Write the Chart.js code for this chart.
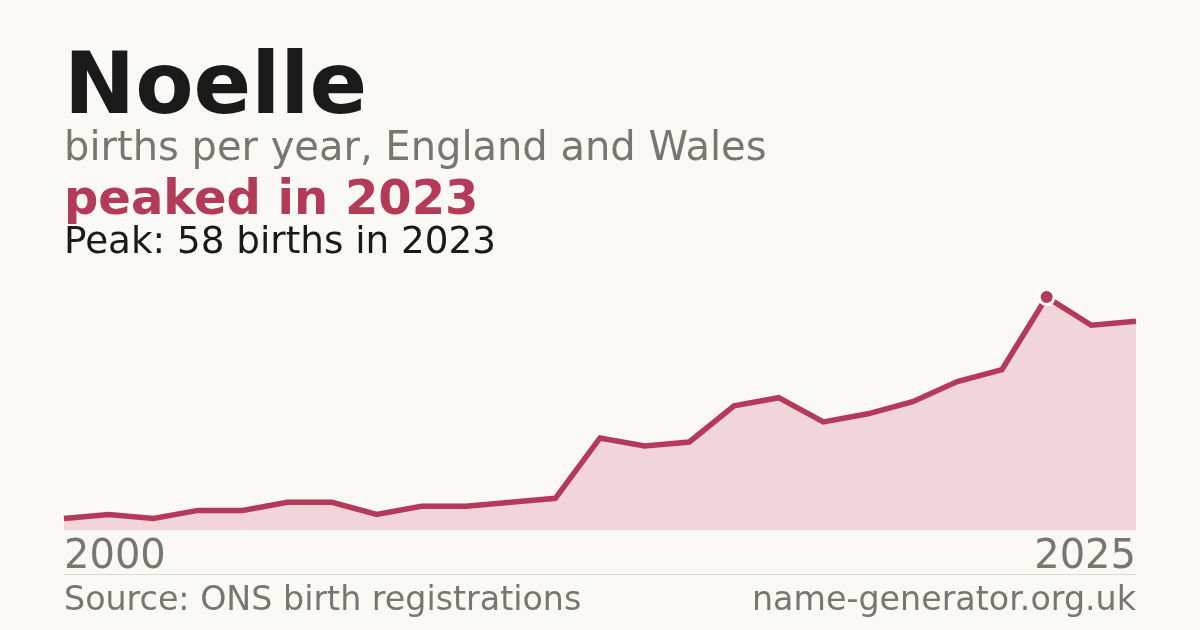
<!DOCTYPE html>
<html>
<head>
<meta charset="utf-8">
<script src="https://cdn.jsdelivr.net/npm/chart.js@4"></script>
<style>
  html, body { margin: 0; padding: 0; }
  body { width: 1200px; height: 630px; background: #faf9f5; position: relative; overflow: hidden; font-family: "DejaVu Sans", sans-serif; }
  #chart { position: absolute; left: 0; top: 0; }
  .txt { position: absolute; left: 64px; line-height: 1; white-space: nowrap; }
  #title { top: 41px; font-size: 85px; font-weight: bold; color: #1a1a1a; }
  #sub { top: 126px; font-size: 40px; color: #7a756e; }
  #peaked { top: 173px; font-size: 48px; font-weight: bold; color: #b33a58; }
  #peak { top: 222px; font-size: 37.3px; color: #1a1a1a; }
  #rule { position: absolute; left: 64px; width: 1072px; top: 574px; height: 1px; background: #dedad3; }
  .foot { position: absolute; top: 582px; font-size: 33.3px; line-height: 1; color: #7a756e; white-space: nowrap; }
  #src { left: 64px; }
  #site { right: 64px; }
</style>
</head>
<body>
<canvas id="chart" width="1200" height="630"></canvas>
<div class="txt" id="title">Noelle</div>
<div class="txt" id="sub">births per year, England and Wales</div>
<div class="txt" id="peaked">peaked in 2023</div>
<div class="txt" id="peak">Peak: 58 births in 2023</div>
<div id="rule"></div>
<div class="foot" id="src">Source: ONS birth registrations</div>
<div class="foot" id="site">name-generator.org.uk</div>
<script>
// tahun (satu tahun tidak tercatat, jadi 25 titik)
var years = [2000, 2002, 2003, 2004, 2005, 2006, 2007, 2008, 2009, 2010,
  2011, 2012, 2013, 2014, 2015, 2016, 2017, 2018, 2019, 2020,
  2021, 2022, 2023, 2024, 2025];
var births = [3, 4, 3, 5, 5, 7, 7, 4, 6, 6,
  7, 8, 23, 21, 22, 31, 33, 27, 29, 32,
  37, 40, 58, 51, 52];

var peakIndex = births.indexOf(Math.max.apply(null, births));
var lastIndex = years.length - 1;

var ctx = document.getElementById("chart").getContext("2d");
var chart = new Chart(ctx, {
  type: "line",
  data: {
    labels: years,
    datasets: [
      {
        data: births,
        borderColor: "#b5395a",
        borderWidth: 5.5,
        backgroundColor: "#f1d5da",
        fill: "origin",
        tension: 0,
        clip: false,
        // hanya titik puncak yang diberi lingkaran
        pointRadius: function (c) { return c.dataIndex === peakIndex ? 7.5 : 0; },
        pointHoverRadius: function (c) { return c.dataIndex === peakIndex ? 7.5 : 0; },
        pointBackgroundColor: "#b3385a",
        pointBorderColor: "#ffffff",
        pointBorderWidth: 3,
      },
    ],
  },
  options: {
    responsive: false,
    animation: false,
    layout: { padding: { left: 64, right: 64, top: 281, bottom: 45.3 } },
    plugins: { legend: { display: false }, tooltip: { enabled: false } },
    scales: {
      x: {
        offset: false,
        grid: { display: false, drawTicks: false },
        border: { display: false },
        ticks: {
          autoSkip: false,
          maxRotation: 0,
          align: "inner",
          padding: 7.1,
          color: "#7a756e",
          font: { family: "DejaVu Sans", size: 40, lineHeight: 1 },
          callback: function (value, index) {
            return index === 0 || index === lastIndex ? String(this.getLabelForValue(value)) : "";
          },
        },
      },
      y: {
        display: false,
        min: 0,
        max: 62,
      },
    },
  },
});
</script>
</body>
</html>
